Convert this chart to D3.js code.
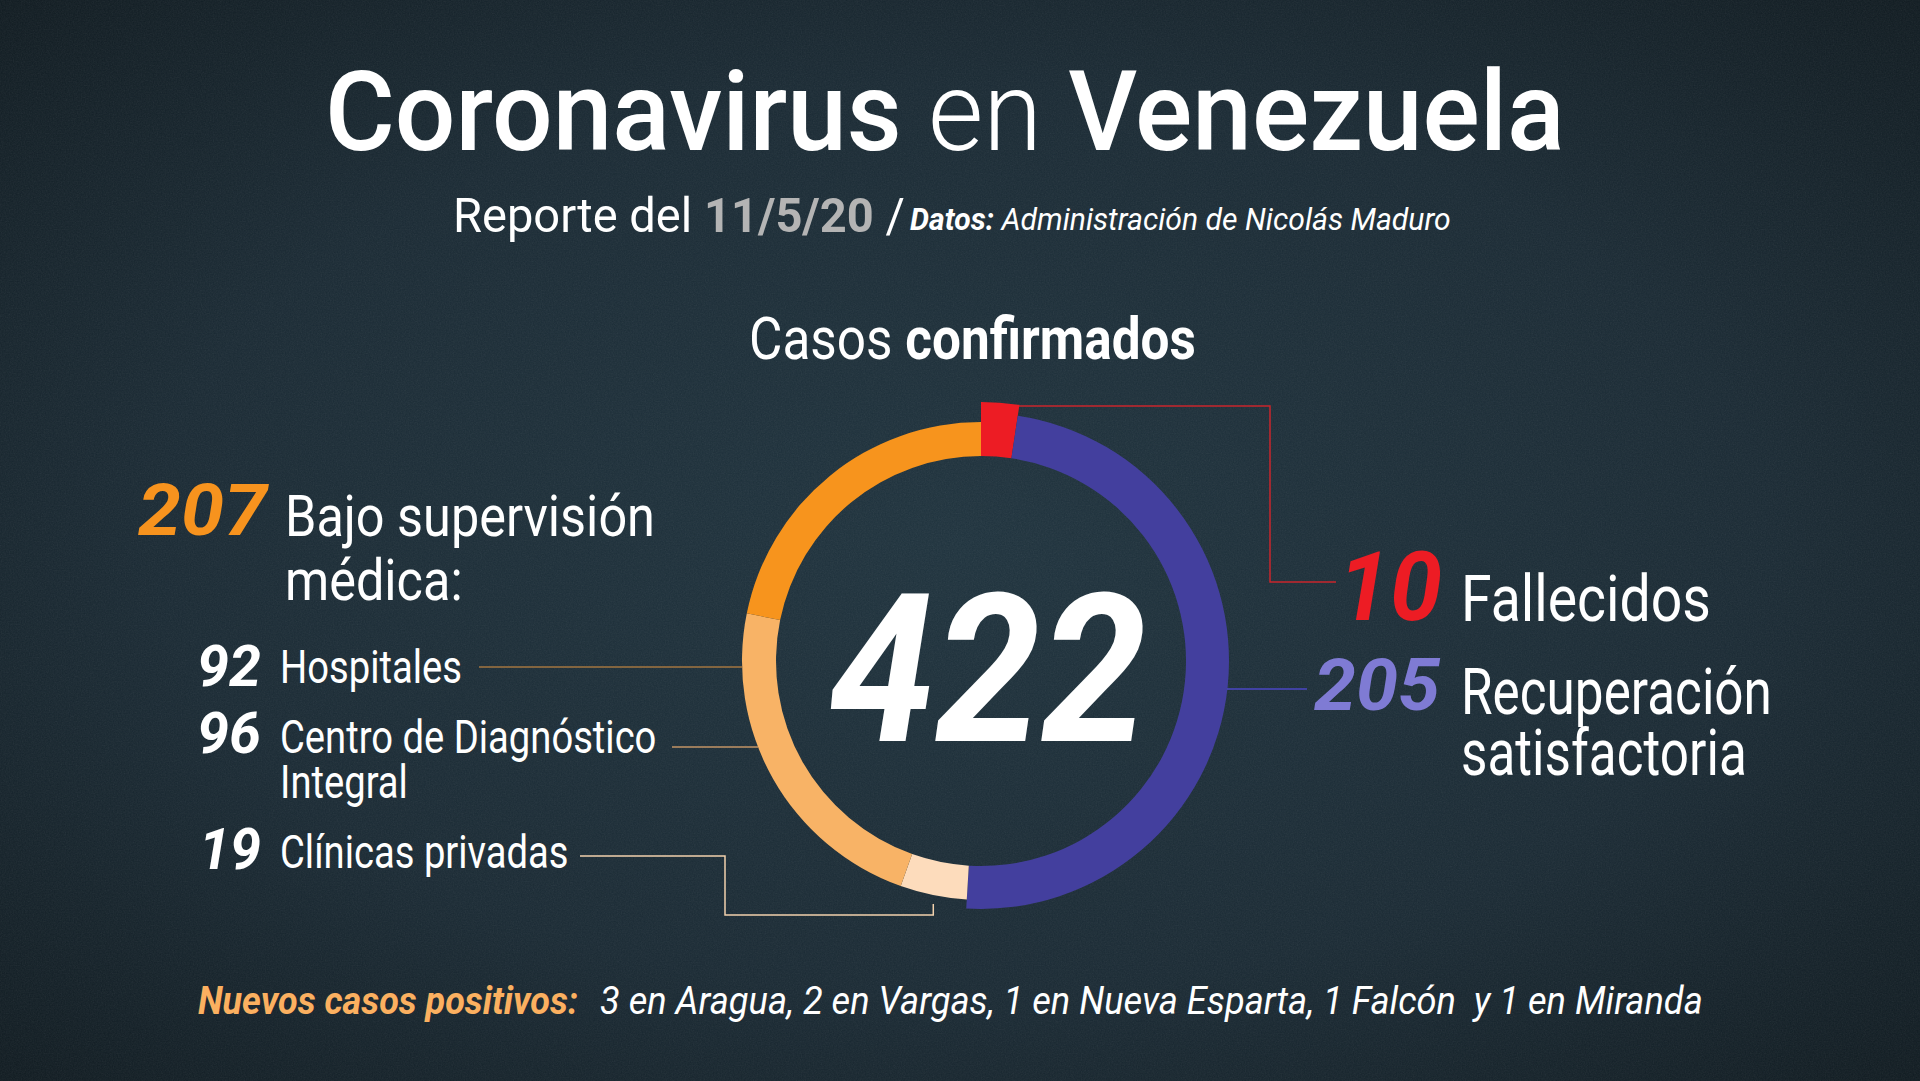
<!DOCTYPE html>
<html><head><meta charset="utf-8">
<script src="https://cdn.jsdelivr.net/npm/d3@7"></script>
<style>html,body{margin:0;padding:0;background:#17242c;overflow:hidden}text{white-space:pre}</style>
</head><body>
<svg id="c" width="1920" height="1081"></svg>
<script>
// ---- data ----
const categories = ["Fallecidos", "Recuperación satisfactoria", "Clínicas privadas", "Centro de Diagnóstico Integral", "Hospitales"];
const values = [10, 205, 19, 96, 92];
const totalCases = 422;
const supervisedTotal = 207;
const reportDate = "11/5/20";
const newCasesText = "3 en Aragua, 2 en Vargas, 1 en Nueva Esparta, 1 Falcón  y 1 en Miranda";

// ---- styles ----
const colors = ["#ed1c24", "url(#blueGrad)", "#fddcbc", "#f8b366", "#f7941d"];
const outerR = [259, 248, 239, 239, 239];
const innerR = 205;
const cx = 981, cy = 661;

const svg = d3.select("#c");
const defs = svg.append("defs");
const bg = defs.append("radialGradient").attr("id", "bgGrad").attr("cx", "50%").attr("cy", "50%").attr("r", "70%");
bg.append("stop").attr("offset", "0%").attr("stop-color", "#1f333e");
bg.append("stop").attr("offset", "60%").attr("stop-color", "#1a2a34");
bg.append("stop").attr("offset", "100%").attr("stop-color", "#101b21");
const bl = defs.append("linearGradient").attr("id", "blueGrad").attr("gradientUnits", "userSpaceOnUse")
  .attr("x1", cx - 40).attr("y1", 0).attr("x2", cx + 200).attr("y2", 0);
bl.append("stop").attr("offset", "0%").attr("stop-color", "#433f9e");
bl.append("stop").attr("offset", "100%").attr("stop-color", "#4c48c8");
const f = defs.append("filter").attr("id", "noise").attr("x", 0).attr("y", 0).attr("width", "100%").attr("height", "100%");
f.append("feTurbulence").attr("type", "fractalNoise").attr("baseFrequency", 0.75).attr("numOctaves", 3).attr("seed", 7);
f.append("feColorMatrix").attr("type", "saturate").attr("values", 0);

svg.append("rect").attr("width", 1920).attr("height", 1081).attr("fill", "url(#bgGrad)");
svg.append("rect").attr("width", 1920).attr("height", 1081).attr("filter", "url(#noise)").attr("opacity", 0.09);

// ---- text helper: draw text then scale horizontally to target width ----
function label(x, y, size, parts, opt) {
  const g = svg.append("g").attr("transform", `translate(${x},${y})`);
  const t = g.append("text").attr("font-family", "Roboto").attr("font-size", size);
  parts.forEach(p => t.append("tspan").text(p.t)
    .attr("font-weight", p.w || 400)
    .attr("font-style", p.i ? "italic" : "normal")
    .attr("fill", p.c || "#ffffff"));
  const w = t.node().getComputedTextLength();
  const s = opt.width ? opt.width / w : opt.scale;
  t.attr("transform", `scale(${s},1)`);
  return s;
}

// ---- header ----
label(325, 150, 112, [{t: "Coronavirus", w: 500}, {t: " en ", w: 300}, {t: "Venezuela", w: 500}], {width: 1240});
label(453, 232, 49, [{t: "Reporte del "}, {t: reportDate, w: 700, c: "#b4b4b4"}, {t: " /"}], {width: 452});
label(910, 230, 32, [{t: "Datos:", w: 700, i: true}, {t: " Administración de Nicolás Maduro", i: true}], {width: 541});
label(749, 359, 60, [{t: "Casos "}, {t: "confirmados", w: 700}], {width: 447});

// ---- donut ----
const pie = d3.pie().sort(null).value(d => d)(values);
const arc = d3.arc().innerRadius(innerR).outerRadius(d => outerR[d.index]);
const ring = svg.append("g").attr("transform", `translate(${cx},${cy})`);
ring.selectAll("path").data(pie).join("path").attr("d", arc).attr("fill", (d, i) => colors[i]);

// ---- center total ----
label(829, 741, 207, [{t: String(totalCases), w: 700, i: true}], {width: 318});

// ---- leader lines ----
const lines = svg.append("g").attr("fill", "none").attr("stroke-width", 1.5);
const ringX = (y, r) => cx - Math.sqrt(r * r - (y - cy) * (y - cy));
const redEnd = pie[0].endAngle;
lines.append("path").attr("stroke", "#c9262c")
  .attr("d", `M${cx + 256 * Math.sin(redEnd)},406 H1270 V582 H1336`);
lines.append("path").attr("stroke", "#4b47c4")
  .attr("d", `M${cx + 246},689 H1307`);
lines.append("path").attr("stroke", "#a37640")
  .attr("d", `M479,667 H${ringX(667, 239)}`);
lines.append("path").attr("stroke", "#c39466")
  .attr("d", `M672,747 H${ringX(747, 239)}`);
const peachMid = (pie[2].startAngle + pie[2].endAngle) / 2;
const peachX = cx + 239 * Math.sin(peachMid);
lines.append("path").attr("stroke", "#f2d1ad")
  .attr("d", `M580,856 H725 V915 H${peachX} V904`);

// ---- left labels ----
label(138, 535, 72, [{t: String(supervisedTotal), w: 700, i: true, c: "#f7931e"}], {width: 129});
const s1 = label(285, 536, 58, [{t: "Bajo supervisión"}], {width: 370});
label(285, 600, 58, [{t: "médica:"}], {scale: s1});

label(197, 686, 57, [{t: String(values[4]), w: 700, i: true}], {width: 64});
const s2 = label(280, 683, 46, [{t: "Hospitales"}], {width: 182});
label(197, 753, 57, [{t: String(values[3]), w: 700, i: true}], {width: 64});
label(280, 753, 46, [{t: "Centro de Diagnóstico"}], {scale: s2});
label(280, 798, 46, [{t: "Integral"}], {scale: s2});
label(199, 869, 57, [{t: String(values[2]), w: 700, i: true}], {width: 62});
label(280, 868, 46, [{t: "Clínicas privadas"}], {scale: s2});

// ---- right labels ----
label(1338, 620, 96, [{t: String(values[0]), w: 700, i: true, c: "#ed1c24"}], {width: 104});
label(1461, 621, 64, [{t: "Fallecidos"}], {width: 250});
label(1314, 710, 72, [{t: String(values[1]), w: 700, i: true, c: "#7f7bd4"}], {width: 126});
const s3 = label(1461, 714, 64, [{t: "Recuperación"}], {width: 311});
label(1461, 775, 64, [{t: "satisfactoria"}], {scale: s3});

// ---- footer ----
label(198, 1014, 38, [{t: "Nuevos casos positivos:", w: 700, i: true, c: "#fbb060"}], {width: 380});
label(600, 1014, 38, [{t: newCasesText, i: true}], {width: 1103});
</script>
</body></html>
